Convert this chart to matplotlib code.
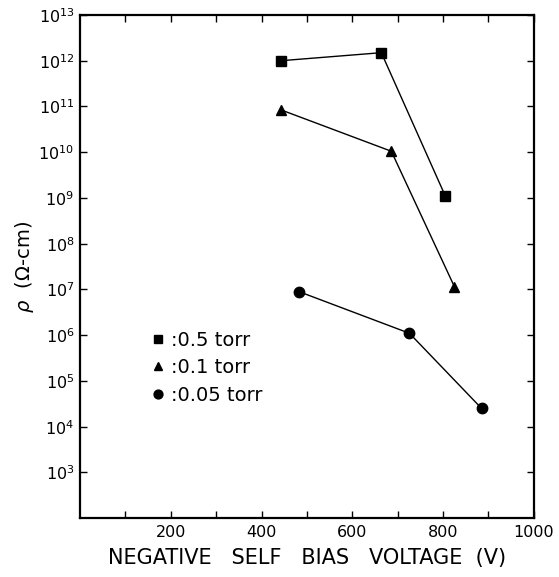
import matplotlib
matplotlib.use("Agg")
import matplotlib.pyplot as plt
from matplotlib.ticker import FixedLocator, NullFormatter

# data
v_05 = [442, 664, 805]
rho_05 = [1.0e12, 1.5e12, 1.1e9]
v_01 = [442, 686, 825]
rho_01 = [8.5e10, 1.05e10, 1.15e7]
v_005 = [482, 726, 885]
rho_005 = [9.0e6, 1.1e6, 2.5e4]
labels = [":0.5 torr", ":0.1 torr", ":0.05 torr"]
x_major = [200, 400, 600, 800, 1000]
x_minor = [100, 300, 500, 700, 900]
y_exps = list(range(3, 14))

fig = plt.figure(figsize=(5.59, 5.77), dpi=100)
ax = fig.add_axes([0.143, 0.102, 0.812, 0.872])

kw = dict(color="black", linewidth=1.0, markersize=7.5)
ax.plot(v_05, rho_05, marker="s", label=labels[0], **kw)
ax.plot(v_01, rho_01, marker="^", label=labels[1], **kw)
ax.plot(v_005, rho_005, marker="o", label=labels[2], **kw)

ax.set_yscale("log")
ax.set_xlim(0, 1000)
ax.set_ylim(1e2, 1e13)
ax.xaxis.set_major_locator(FixedLocator(x_major))
ax.xaxis.set_minor_locator(FixedLocator(x_minor))
ax.set_yticks([10.0 ** k for k in y_exps])
ax.set_yticklabels([r"$10^{%d}$" % k for k in y_exps])
ax.yaxis.set_minor_locator(FixedLocator([]))
ax.yaxis.set_minor_formatter(NullFormatter())

ax.tick_params(which="both", direction="in", top=True, right=True,
               labelsize=11.5, width=1.0, length=5)
ax.tick_params(axis="y", pad=4)
ax.tick_params(axis="x", pad=5)
for s in ax.spines.values():
    s.set_linewidth(1.6)

ax.set_xlabel("NEGATIVE   SELF   BIAS   VOLTAGE  (V)", fontsize=15, labelpad=6)
ax.set_ylabel(r"$\rho$  ($\Omega$-cm)", fontsize=14, labelpad=2)

leg = ax.legend(loc="lower left", bbox_to_anchor=(0.12, 0.19), frameon=False,
                fontsize=14, handlelength=0.6, handletextpad=0.4,
                labelspacing=0.45, markerscale=0.85)
for h in leg.legend_handles:
    h.set_linestyle("none")

fig.savefig("out.png", dpi=100)
